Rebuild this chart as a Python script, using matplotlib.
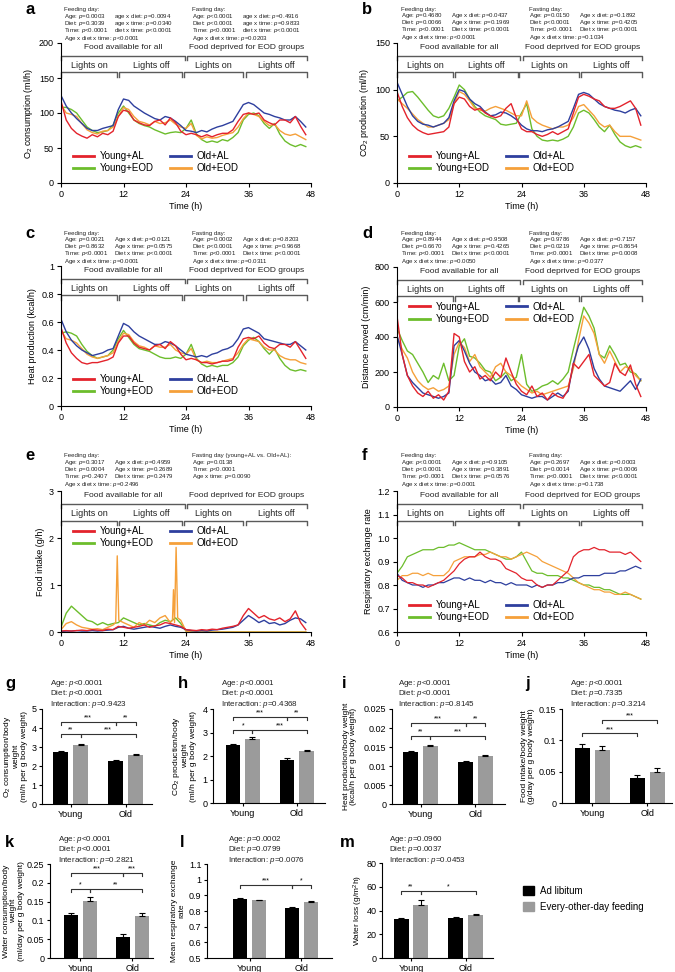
import matplotlib
matplotlib.use("Agg")
import matplotlib.pyplot as plt
from matplotlib.patches import Patch
from matplotlib.lines import Line2D

plt.rcParams["font.family"] = ["Liberation Sans", "DejaVu Sans"]
plt.rcParams["mathtext.fontset"] = "custom"
plt.rcParams["mathtext.rm"] = "Liberation Sans"
plt.rcParams["mathtext.it"] = "Liberation Sans:italic"
plt.rcParams["mathtext.bf"] = "Liberation Sans:bold"
plt.rcParams["axes.linewidth"] = 0.8

W, H = 675, 972

# ---- time courses, hourly readings (0..47 h) ----
o2_yal = [117, 90, 78, 71, 67, 64, 69, 66, 71, 69, 74, 95,
          104, 102, 90, 86, 83, 82, 88, 90, 83, 93, 86, 74,
          69, 71, 69, 66, 69, 66, 69, 71, 71, 76, 88, 98,
          100, 98, 100, 90, 86, 83, 90, 90, 86, 95, 81, 69]
o2_oal = [125, 110, 100, 92, 85, 78, 75, 75, 78, 80, 82, 105,
          120, 118, 110, 105, 100, 96, 92, 90, 95, 93, 88, 82,
          75, 74, 72, 75, 73, 77, 80, 82, 85, 88, 100, 112,
          115, 112, 106, 100, 98, 95, 93, 90, 90, 95, 88, 80]
o2_yeod = [108, 108, 105, 100, 90, 80, 75, 72, 73, 75, 83, 100,
           110, 100, 90, 85, 82, 80, 76, 73, 70, 72, 73, 72,
           78, 90, 70, 62, 58, 60, 58, 62, 60, 65, 72, 90,
           98, 100, 96, 85, 78, 85, 70, 60, 55, 52, 55, 52]
o2_oeod = [112, 100, 98, 95, 85, 76, 72, 70, 74, 75, 80, 95,
           108, 105, 95, 88, 86, 83, 88, 85, 86, 90, 84, 80,
           78, 85, 68, 63, 66, 64, 65, 68, 70, 72, 80, 92,
           100, 98, 95, 88, 82, 84, 75, 70, 68, 70, 66, 62]

co2_yal = [98, 82, 70, 62, 57, 54, 52, 53, 54, 55, 60, 85,
           92, 90, 82, 78, 80, 75, 72, 70, 72, 80, 85, 70,
           58, 55, 55, 52, 50, 52, 55, 52, 55, 58, 75, 92,
           95, 93, 90, 88, 82, 80, 80, 82, 85, 88, 80, 62]
co2_oal = [108, 95, 82, 72, 66, 63, 62, 60, 62, 64, 70, 88,
           100, 98, 90, 85, 82, 76, 72, 73, 76, 75, 72, 68,
           62, 58, 56, 56, 55, 57, 58, 60, 63, 66, 80, 95,
           97, 95, 90, 85, 82, 80, 78, 77, 75, 78, 80, 72]
co2_yeod = [88, 92, 97, 98, 92, 85, 78, 72, 70, 72, 80, 92,
            105, 100, 90, 82, 76, 72, 70, 68, 63, 62, 63, 64,
            75, 85, 58, 50, 46, 45, 46, 45, 47, 50, 60, 75,
            78, 75, 68, 60, 55, 62, 52, 44, 40, 38, 40, 38]
co2_oeod = [90, 85, 80, 74, 68, 64, 60, 60, 62, 64, 68, 85,
            98, 95, 88, 80, 78, 77, 80, 82, 80, 78, 75, 72,
            72, 88, 70, 65, 62, 60, 58, 60, 60, 62, 70, 82,
            84, 78, 72, 64, 60, 62, 55, 50, 50, 50, 48, 46]

heat_yal = [0.56, 0.45, 0.38, 0.34, 0.31, 0.30, 0.31, 0.31, 0.32, 0.33, 0.35, 0.45,
            0.50, 0.50, 0.45, 0.42, 0.41, 0.40, 0.43, 0.44, 0.41, 0.46, 0.43, 0.37,
            0.33, 0.34, 0.33, 0.31, 0.31, 0.30, 0.31, 0.32, 0.32, 0.33, 0.42, 0.48,
            0.49, 0.48, 0.50, 0.45, 0.42, 0.41, 0.44, 0.44, 0.42, 0.46, 0.40, 0.34]
heat_oal = [0.62, 0.53, 0.47, 0.43, 0.40, 0.38, 0.36, 0.37, 0.38, 0.40, 0.41, 0.50,
            0.59, 0.57, 0.53, 0.50, 0.48, 0.46, 0.44, 0.44, 0.46, 0.45, 0.43, 0.40,
            0.37, 0.36, 0.35, 0.36, 0.35, 0.37, 0.38, 0.40, 0.41, 0.43, 0.48, 0.55,
            0.56, 0.54, 0.52, 0.48, 0.47, 0.46, 0.45, 0.44, 0.44, 0.46, 0.43, 0.40]
heat_yeod = [0.52, 0.53, 0.52, 0.50, 0.44, 0.39, 0.36, 0.34, 0.35, 0.36, 0.40, 0.48,
             0.54, 0.49, 0.44, 0.41, 0.40, 0.39, 0.37, 0.35, 0.34, 0.34, 0.35, 0.34,
             0.37, 0.44, 0.34, 0.30, 0.28, 0.29, 0.28, 0.29, 0.29, 0.31, 0.35, 0.43,
             0.47, 0.49, 0.46, 0.41, 0.37, 0.41, 0.34, 0.29, 0.26, 0.25, 0.26, 0.25]
heat_oeod = [0.54, 0.48, 0.47, 0.45, 0.41, 0.37, 0.35, 0.34, 0.35, 0.36, 0.38, 0.46,
             0.52, 0.51, 0.46, 0.43, 0.42, 0.40, 0.43, 0.42, 0.42, 0.44, 0.40, 0.38,
             0.37, 0.41, 0.33, 0.31, 0.32, 0.31, 0.31, 0.32, 0.33, 0.34, 0.38, 0.44,
             0.48, 0.47, 0.46, 0.42, 0.40, 0.40, 0.36, 0.34, 0.33, 0.33, 0.31, 0.30]

dist_yal = [520, 300, 180, 120, 80, 60, 90, 50, 70, 40, 90, 420,
            400, 260, 200, 230, 160, 180, 150, 200, 170, 280, 200, 130,
            90, 70, 120, 60, 80, 40, 80, 60, 50, 100, 250, 220,
            260, 300, 180, 150, 120, 140, 250, 200, 180, 240, 130, 60]
dist_oal = [410, 300, 180, 140, 110, 80, 70, 60, 50, 60, 80, 350,
            380, 320, 250, 200, 180, 150, 160, 130, 140, 180, 120, 100,
            70, 60, 50, 60, 60, 40, 60, 80, 60, 90, 250, 350,
            400, 330, 220, 160, 120, 110, 100, 90, 120, 150, 100, 160]
dist_yeod = [450, 380, 320, 300, 250, 200, 140, 180, 160, 250, 150, 180,
             350, 390, 290, 280, 250, 210, 200, 150, 170, 200, 150, 170,
             300, 130, 90, 100, 120, 130, 150, 130, 160, 200, 330, 450,
             570, 520, 450, 300, 280, 350, 300, 240, 250, 200, 190, 150]
dist_oeod = [400, 330, 280, 200, 150, 120, 100, 110, 90, 100, 120, 300,
             370, 340, 260, 300, 230, 200, 170, 230, 250, 200, 180, 150,
             120, 100, 80, 90, 70, 80, 90, 100, 110, 120, 220, 380,
             520, 480, 420, 300, 250, 320, 260, 200, 230, 220, 180, 150]

food_yal = [0.02, 0.03, 0.02, 0.03, 0.04, 0.03, 0.05, 0.04, 0.03, 0.06, 0.05, 0.12,
            0.10, 0.08, 0.10, 0.12, 0.15, 0.10, 0.13, 0.15, 0.20, 0.18, 0.15, 0.12,
            0.05, 0.04, 0.03, 0.05, 0.04, 0.06, 0.05, 0.08, 0.10, 0.12, 0.15, 0.35,
            0.50, 0.40, 0.30, 0.35, 0.28, 0.25, 0.30, 0.22, 0.28, 0.45, 0.20, 0.05]
food_oal = [0.01, 0.02, 0.02, 0.03, 0.02, 0.02, 0.03, 0.02, 0.03, 0.04, 0.05, 0.10,
            0.12, 0.08, 0.06, 0.08, 0.10, 0.12, 0.10, 0.08, 0.12, 0.15, 0.12, 0.10,
            0.05, 0.03, 0.02, 0.03, 0.02, 0.04, 0.05, 0.06, 0.08, 0.10, 0.15, 0.25,
            0.35, 0.28, 0.20, 0.25, 0.18, 0.20, 0.15, 0.18, 0.25, 0.30, 0.28, 0.20]
food_yeod = [0.10, 0.40, 0.55, 0.45, 0.35, 0.25, 0.22, 0.15, 0.20, 0.15, 0.18, 0.20,
             0.30, 0.25, 0.20, 0.15, 0.18, 0.15, 0.12, 0.20, 0.25, 0.22, 0.30, 0.18,
             0.02, 0, 0, 0, 0, 0, 0, 0, 0, 0, 0, 0,
             0, 0, 0, 0, 0, 0, 0, 0, 0, 0, 0, 0]
# Old+EOD food intake has narrow spikes, so it keeps its own time stamps
food_oeod_hours = (list(range(0, 11)) + [10.5, 10.8, 11.1] + list(range(12, 22))
                   + [21.4, 21.6, 21.8, 22.1, 22.4, 23, 24] + list(range(25, 48)))
food_oeod = [0.05, 0.18, 0.22, 0.15, 0.10, 0.08, 0.06, 0.07, 0.05, 0.10, 0.15,
             0.20, 1.62, 0.25,
             0.20, 0.15, 0.10, 0.20, 0.15, 0.25, 0.20, 0.30, 0.35, 0.20,
             0.25, 0.90, 0.20, 1.80, 0.30, 0.25, 0.02,
             0, 0, 0, 0, 0, 0, 0, 0, 0, 0, 0, 0,
             0, 0, 0, 0, 0, 0, 0, 0, 0, 0, 0]

rer_yal = [0.84, 0.83, 0.81, 0.81, 0.80, 0.80, 0.79, 0.80, 0.81, 0.82, 0.84, 0.86,
           0.89, 0.91, 0.92, 0.92, 0.94, 0.92, 0.91, 0.91, 0.90, 0.87, 0.86, 0.85,
           0.83, 0.82, 0.82, 0.80, 0.79, 0.80, 0.80, 0.82, 0.84, 0.86, 0.92, 0.94,
           0.95, 0.95, 0.96, 0.95, 0.95, 0.94, 0.94, 0.94, 0.93, 0.94, 0.92, 0.90]
rer_oal = [0.85, 0.82, 0.81, 0.80, 0.80, 0.79, 0.80, 0.80, 0.81, 0.81, 0.82, 0.83,
           0.83, 0.82, 0.83, 0.82, 0.82, 0.81, 0.82, 0.81, 0.81, 0.80, 0.81, 0.80,
           0.80, 0.80, 0.79, 0.80, 0.79, 0.80, 0.80, 0.81, 0.81, 0.82, 0.83, 0.83,
           0.84, 0.84, 0.84, 0.84, 0.85, 0.85, 0.85, 0.86, 0.86, 0.87, 0.88, 0.87]
rer_yeod = [0.85, 0.88, 0.92, 0.93, 0.94, 0.95, 0.95, 0.95, 0.96, 0.96, 0.97, 0.97,
            0.98, 0.97, 0.96, 0.95, 0.95, 0.95, 0.94, 0.93, 0.92, 0.91, 0.91, 0.92,
            0.94, 0.90, 0.86, 0.85, 0.85, 0.84, 0.84, 0.84, 0.83, 0.83, 0.82, 0.81,
            0.80, 0.80, 0.79, 0.79, 0.78, 0.78, 0.77, 0.76, 0.76, 0.76, 0.75, 0.74]
rer_oeod = [0.82, 0.84, 0.84, 0.85, 0.85, 0.84, 0.85, 0.84, 0.84, 0.84, 0.86, 0.90,
            0.91, 0.92, 0.92, 0.92, 0.93, 0.93, 0.94, 0.93, 0.92, 0.92, 0.91, 0.92,
            0.93, 0.94, 0.93, 0.92, 0.90, 0.89, 0.88, 0.87, 0.86, 0.85, 0.83, 0.81,
            0.80, 0.79, 0.78, 0.78, 0.77, 0.77, 0.76, 0.76, 0.77, 0.76, 0.75, 0.74]

# ---- bar data, order: Young AL, Young EOD, Old AL, Old EOD ----
bar_o2 = [2.75, 3.08, 2.25, 2.58]
bar_o2_err = [0.05, 0.08, 0.05, 0.05]
bar_co2 = [2.45, 2.72, 1.85, 2.22]
bar_co2_err = [0.05, 0.08, 0.05, 0.05]
bar_heat = [0.0137, 0.0152, 0.0110, 0.0127]
bar_heat_err = [0.0003, 0.0004, 0.0002, 0.0002]
bar_food = [0.088, 0.084, 0.040, 0.049]
bar_food_err = [0.006, 0.007, 0.005, 0.007]
bar_water = [0.115, 0.152, 0.057, 0.111]
bar_water_err = [0.006, 0.010, 0.007, 0.008]
bar_rer = [0.877, 0.868, 0.820, 0.858]
bar_rer_err = [0.006, 0.005, 0.007, 0.004]
bar_loss = [33.0, 44.5, 34.0, 36.0]
bar_loss_err = [1.0, 4.5, 0.8, 1.0]

age_groups = ["Young", "Old"]

COLORS = {"Young+AL": "#e3232c", "Old+AL": "#2e3f9e",
          "Young+EOD": "#6cbd2c", "Old+EOD": "#f5a03a"}
DRAW_ORDER = ["Young+EOD", "Old+EOD", "Old+AL", "Young+AL"]
LEGEND_ORDER = ["Young+AL", "Young+EOD", "Old+AL", "Old+EOD"]

fig = plt.figure(figsize=(W / 100, H / 100), dpi=100)


def px_axes(left, top, right, bottom):
    return fig.add_axes([left / W, 1 - bottom / H, (right - left) / W, (bottom - top) / H])


def ftext(x, y, s, **kw):
    fig.text(x / W, 1 - y / H, s, **kw)


def style_axes(ax, size=6.5, length=3, pad=2):
    for s in ("top", "right"):
        ax.spines[s].set_visible(False)
    ax.tick_params(direction="out", length=length, width=0.8, labelsize=size, pad=pad)


def stats_block(x, y, title, rows, dx=50, dy=6.9):
    ftext(x, y, title, fontsize=4.4, va="center", color="#222222")
    for i, row in enumerate(rows):
        yy = y + dy * (i + 1) + (1 if i == 3 else 0)
        ftext(x, yy, row[0], fontsize=4.4, va="center", color="#222222")
        if len(row) > 1:
            ftext(x + dx, yy, row[1], fontsize=4.4, va="center", color="#222222")


def bracket(ax, x0, x1, y, label, ty, size):
    tr = ax.get_xaxis_transform()
    ax.plot([x0, x0, x1, x1], [y - 0.03, y, y, y - 0.03], transform=tr,
            color="#5a5a5a", lw=1.0, clip_on=False)
    ax.text((x0 + x1) / 2, ty, label, transform=tr, ha="center", va="center",
            fontsize=size, color="#222222")


def time_panel(box, series, ylim, yticks, yticklabels, ylabel, leg_loc, leg_anchor, lw=1.0):
    ax = px_axes(*box)
    style_axes(ax)
    for name in DRAW_ORDER:
        hrs, vals = series[name]
        ax.plot(hrs, vals, color=COLORS[name], lw=lw)
    ax.set_xlim(0, 48)
    ax.set_ylim(*ylim)
    ax.set_xticks([0, 12, 24, 36, 48])
    ax.set_yticks(yticks)
    ax.set_yticklabels(yticklabels)
    ax.set_xlabel("Time (h)", fontsize=6.5, labelpad=2)
    ax.set_ylabel(ylabel, fontsize=6.5, labelpad=3)
    bracket(ax, 0, 23.8, 0.91, "Food available for all", 0.965, 6.0)
    bracket(ax, 24.2, 47.2, 0.91, "Food deprived for EOD groups", 0.965, 6.0)
    bracket(ax, 0, 10.8, 0.79, "Lights on", 0.84, 6.5)
    bracket(ax, 11.2, 23.3, 0.79, "Lights off", 0.84, 6.5)
    bracket(ax, 23.6, 35.0, 0.79, "Lights on", 0.84, 6.5)
    bracket(ax, 35.5, 47.2, 0.79, "Lights off", 0.84, 6.5)
    handles = [Line2D([], [], color=COLORS[n], lw=2) for n in LEGEND_ORDER]
    ax.legend(handles, LEGEND_ORDER, ncol=2, loc=leg_loc, bbox_to_anchor=leg_anchor,
              frameon=False, fontsize=7, handlelength=2.2, handletextpad=0.6,
              columnspacing=1.6, labelspacing=0.25, borderpad=0.2)
    return ax


def hourly(vals):
    return (list(range(len(vals))), vals)


# ---- panel a ----
time_panel((61, 43, 311, 183),
           {"Young+AL": hourly(o2_yal), "Old+AL": hourly(o2_oal),
            "Young+EOD": hourly(o2_yeod), "Old+EOD": hourly(o2_oeod)},
           (0, 200), [0, 50, 100, 150, 200], ["0", "50", "100", "150", "200"],
           "O$_2$ consumption (ml/h)", "lower left", (0.02, 0.02))
stats_block(64, 10, "Feeding day:",
            [("Age: $p$=0.0003", "age x diet: $p$=0.0094"),
             ("Diet: $p$=0.3039", "age x time: $p$=0.0340"),
             ("Time: $p$<0.0001", "diet x time: $p$<0.0001"),
             ("Age x diet x time: $p$<0.0001",)])
stats_block(192, 10, "Fasting day:",
            [("Age: $p$<0.0001", "age x diet: $p$=0.4916"),
             ("Diet: $p$<0.0001", "age x time: $p$=0.9833"),
             ("Time: $p$<0.0001", "diet x time: $p$<0.0001"),
             ("Age x diet x time: $p$=0.0203",)])

# ---- panel b ----
time_panel((397, 43, 646, 183),
           {"Young+AL": hourly(co2_yal), "Old+AL": hourly(co2_oal),
            "Young+EOD": hourly(co2_yeod), "Old+EOD": hourly(co2_oeod)},
           (0, 150), [0, 50, 100, 150], ["0", "50", "100", "150"],
           "CO$_2$ production (ml/h)", "lower left", (0.02, 0.02))
stats_block(401, 9, "Feeding day:",
            [("Age: $p$=0.4680", "Age x diet: $p$=0.0437"),
             ("Diet: $p$=0.0066", "Age x time: $p$=0.1969"),
             ("Time: $p$<0.0001", "Diet x time: $p$<0.0001"),
             ("Age x diet x time: $p$<0.0001",)])
stats_block(529, 9, "Fasting day:",
            [("Age: $p$=0.0150", "Age x diet: $p$=0.1892"),
             ("Diet: $p$<0.0001", "Age x time: $p$=0.4205"),
             ("Time: $p$<0.0001", "Diet x time: $p$<0.0001"),
             ("Age x diet x time: $p$=0.1034",)])

# ---- panel c ----
time_panel((61, 266, 311, 406),
           {"Young+AL": hourly(heat_yal), "Old+AL": hourly(heat_oal),
            "Young+EOD": hourly(heat_yeod), "Old+EOD": hourly(heat_oeod)},
           (0, 1), [0, 0.2, 0.4, 0.6, 0.8, 1], ["0", "0.2", "0.4", "0.6", "0.8", "1"],
           "Heat production (kcal/h)", "lower left", (0.02, 0.02))
stats_block(64, 233, "Feeding day:",
            [("Age: $p$=0.0021", "Age x diet: $p$=0.0121"),
             ("Diet: $p$=0.8632", "Age x time: $p$=0.0575"),
             ("Time: $p$<0.0001", "Diet x time: $p$<0.0001"),
             ("Age x diet x time: $p$=0.0001",)])
stats_block(192, 233, "Fasting day:",
            [("Age: $p$=0.0002", "Age x diet: $p$=0.8203"),
             ("Diet: $p$<0.0001", "Age x time: $p$=0.9668"),
             ("Time: $p$<0.0001", "Diet x time: $p$<0.0001"),
             ("Age x diet x time: $p$=0.0311",)])

# ---- panel d ----
time_panel((397, 267, 646, 407),
           {"Young+AL": hourly(dist_yal), "Old+AL": hourly(dist_oal),
            "Young+EOD": hourly(dist_yeod), "Old+EOD": hourly(dist_oeod)},
           (0, 800), [0, 200, 400, 600, 800], ["0", "200", "400", "600", "800"],
           "Distance moved (cm/min)", "upper left", (0.02, 0.80))
stats_block(401, 233, "Feeding day:",
            [("Age: $p$=0.8944", "Age x diet: $p$=0.9508"),
             ("Diet: $p$=0.6670", "Age x time: $p$=0.4265"),
             ("Time: $p$<0.0001", "Diet x time: $p$<0.0001"),
             ("Age x diet x time: $p$=0.0050",)])
stats_block(529, 233, "Fasting day:",
            [("Age: $p$=0.9786", "Age x diet: $p$=0.7157"),
             ("Diet: $p$=0.0219", "Age x time: $p$=0.8654"),
             ("Time: $p$<0.0001", "Diet x time: $p$=0.0008"),
             ("Age x diet x time: $p$=0.0377",)])

# ---- panel e ----
time_panel((61, 491, 311, 632),
           {"Young+AL": hourly(food_yal), "Old+AL": hourly(food_oal),
            "Young+EOD": hourly(food_yeod), "Old+EOD": (food_oeod_hours, food_oeod)},
           (0, 3), [0, 1, 2, 3], ["0", "1", "2", "3"],
           "Food intake (g/h)", "upper left", (0.02, 0.80))
stats_block(64, 456, "Feeding day:",
            [("Age: $p$=0.3017", "Age x diet: $p$=0.4959"),
             ("Diet: $p$=0.0004", "Age x time: $p$=0.2689"),
             ("Time: $p$=0.2407", "Diet x time: $p$=0.2479"),
             ("Age x diet x time: $p$=0.2496",)])
stats_block(192, 456, "Fasting day (young+AL vs. Old+AL):",
            [("Age: $p$=0.0138",), ("Time: $p$<0.0001",), ("Age x time: $p$=0.0090",)])

# ---- panel f ----
time_panel((397, 491, 646, 632),
           {"Young+AL": hourly(rer_yal), "Old+AL": hourly(rer_oal),
            "Young+EOD": hourly(rer_yeod), "Old+EOD": hourly(rer_oeod)},
           (0.6, 1.2), [0.6, 0.7, 0.8, 0.9, 1.0, 1.1, 1.2],
           ["0.6", "0.7", "0.8", "0.9", "1.0", "1.1", "1.2"],
           "Respiratory exchange rate", "lower left", (0.02, 0.02), lw=0.9)
stats_block(401, 456, "Feeding day:",
            [("Age: $p$<0.0001", "Age x diet: $p$=0.9105"),
             ("Diet: $p$<0.0001", "Age x time: $p$=0.3891"),
             ("Time: $p$<0.0001", "Diet x time: $p$=0.0576"),
             ("Age x diet x time: $p$=0.0001",)])
stats_block(529, 456, "Fasting day:",
            [("Age: $p$=0.2697", "Age x diet: $p$=0.0003"),
             ("Diet: $p$=0.0014", "Age x time: $p$=0.0006"),
             ("Time: $p$<0.0001", "Diet x time: $p$<0.0001"),
             ("Age x diet x time: $p$=0.1738",)])

# ---- bar panels ----
BAR_X = [-0.18, 0.18, 0.82, 1.18]
BAR_COLORS = ["black", "#9b9b9b", "black", "#9b9b9b"]


def bar_panel(box, xlim, vals, errs, ylim, yticks, yticklabels, ylabel, label_x, sigs):
    ax = px_axes(*box)
    style_axes(ax, size=6.5, length=2.5, pad=1.5)
    ax.bar(BAR_X, vals, width=0.27, color=BAR_COLORS)
    ax.errorbar(BAR_X, vals, yerr=[[0] * 4, errs], fmt="none", ecolor="black",
                elinewidth=0.8, capsize=2.5, capthick=0.8)
    ax.set_xlim(*xlim)
    ax.set_ylim(*ylim)
    ax.set_yticks(yticks)
    ax.set_yticklabels(yticklabels)
    ax.set_xticks([0, 1])
    ax.set_xticklabels(age_groups)
    # y label placed by hand so the multi-line labels stay inside the figure
    ftext(label_x, (box[1] + box[3]) / 2, ylabel, fontsize=6.0, rotation=90,
          ha="center", va="center", multialignment="center", linespacing=1.1)
    span = ylim[1] - ylim[0]
    for i, j, y, s in sigs:
        ax.plot([BAR_X[i], BAR_X[i], BAR_X[j], BAR_X[j]],
                [y - 0.03 * span, y, y, y - 0.03 * span], color="#333333", lw=0.8)
        ax.text((BAR_X[i] + BAR_X[j]) / 2, y + 0.005 * span, s, ha="center",
                va="bottom", fontsize=5)
    return ax


def bar_stats(x, y, rows):
    for k, r in enumerate(rows):
        ftext(x, y + 10.5 * k, r, fontsize=5.8, va="center", color="#222222")


bar_panel((42, 709, 152, 804), (-0.52, 1.48), bar_o2, bar_o2_err, (0, 5),
          [0, 1, 2, 3, 4, 5], ["0", "1", "2", "3", "4", "5"],
          "O$_2$ consumption/body\nweight\n(ml/h per g body weight)", 15,
          [(0, 2, 4.3, "***"), (2, 3, 4.3, "**"), (0, 1, 3.7, "**"), (1, 3, 3.7, "***")])
bar_stats(50, 683, ["Age: $p$<0.0001", "Diet: $p$<0.0001", "Interaction: $p$=0.9423"])

bar_panel((213, 709, 325, 803), (-0.55, 1.52), bar_co2, bar_co2_err, (0, 4),
          [0, 1, 2, 3, 4], ["0", "1", "2", "3", "4"],
          "CO$_2$ production/body\nweight\n(ml/h per g body weight)", 184,
          [(0, 2, 3.66, "***"), (2, 3, 3.66, "**"), (0, 1, 3.1, "*"), (1, 3, 3.1, "***")])
bar_stats(221, 683, ["Age: $p$<0.0001", "Diet: $p$<0.0001", "Interaction: $p$=0.4368"])

bar_panel((392, 709, 505, 804), (-0.52, 1.54), bar_heat, bar_heat_err, (0, 0.025),
          [0, 0.005, 0.01, 0.015, 0.02, 0.025], ["0", "0.005", "0.01", "0.015", "0.02", "0.025"],
          "Heat production/body weight\n(kcal/h per g body weight)", 350,
          [(0, 2, 0.0213, "***"), (2, 3, 0.0213, "**"), (0, 1, 0.0179, "**"), (1, 3, 0.0179, "***")])
bar_stats(398, 683, ["Age: $p$<0.0001", "Diet: $p$<0.0001", "Interaction: $p$=0.8145"])

bar_panel((562, 709, 672, 803), (-0.55, 1.45), bar_food, bar_food_err, (0, 0.15),
          [0, 0.05, 0.1, 0.15], ["0", "0.05", "0.1", "0.15"],
          "Food intake/body weight\n(g/day per g body weight)", 528,
          [(1, 3, 0.132, "***"), (0, 2, 0.111, "***")])
bar_stats(570, 683, ["Age: $p$<0.0001", "Diet: $p$=0.7335", "Interaction: $p$=0.3214"])

bar_panel((50, 864, 153, 958), (-0.58, 1.4), bar_water, bar_water_err, (0, 0.25),
          [0, 0.05, 0.1, 0.15, 0.2, 0.25], ["0", "0.05", "0.1", "0.15", "0.2", "0.25"],
          "Water consumption/body\nweight\n(ml/day per g body weight)", 14,
          [(0, 2, 0.226, "***"), (2, 3, 0.226, "***"), (0, 1, 0.183, "*"), (1, 3, 0.183, "**")])
bar_stats(58, 839, ["Age: $p$<0.0001", "Diet: $p$<0.0001", "Interaction: $p$=0.2821"])

bar_panel((207, 864, 332, 958), (-0.82, 1.59), bar_rer, bar_rer_err, (0.5, 1.1),
          [0.5, 0.6, 0.7, 0.8, 0.9, 1.0, 1.1], ["0.5", "0.6", "0.7", "0.8", "0.9", "1", "1.1"],
          "Mean respiratory exchange\nrate", 178,
          [(0, 2, 0.966, "***"), (2, 3, 0.966, "*")])
bar_stats(228, 839, ["Age: $p$=0.0002", "Diet: $p$=0.0799", "Interaction: $p$=0.0076"])

bar_panel((382, 863, 493, 958), (-0.53, 1.5), bar_loss, bar_loss_err, (0, 80),
          [0, 20, 40, 60, 80], ["0", "20", "40", "60", "80"],
          "Water loss (g/m$^2$h)", 358,
          [(0, 1, 56.4, "**"), (1, 3, 56.4, "*")])
bar_stats(389, 839, ["Age: $p$=0.0960", "Diet: $p$=0.0037", "Interaction: $p$=0.0453"])

fig.legend(handles=[Patch(color="black", label="Ad libitum"),
                    Patch(color="#9b9b9b", label="Every-other-day feeding")],
           loc="upper left", bbox_to_anchor=(518 / W, 1 - 881 / H), frameon=False,
           fontsize=7, handlelength=1.1, handleheight=1.1, handletextpad=0.7,
           labelspacing=0.6, borderpad=0)

# panel letters
for letter, x, y in [("a", 25, 10), ("b", 362, 10), ("c", 25, 233), ("d", 362, 233),
                     ("e", 25, 456), ("f", 362, 456), ("g", 5, 683), ("h", 178, 683),
                     ("i", 342, 683), ("j", 525, 683), ("k", 5, 842), ("l", 180, 842),
                     ("m", 340, 842)]:
    ftext(x, y, letter, fontsize=12, fontweight="bold", va="center")

fig.savefig("out.png", dpi=100)
